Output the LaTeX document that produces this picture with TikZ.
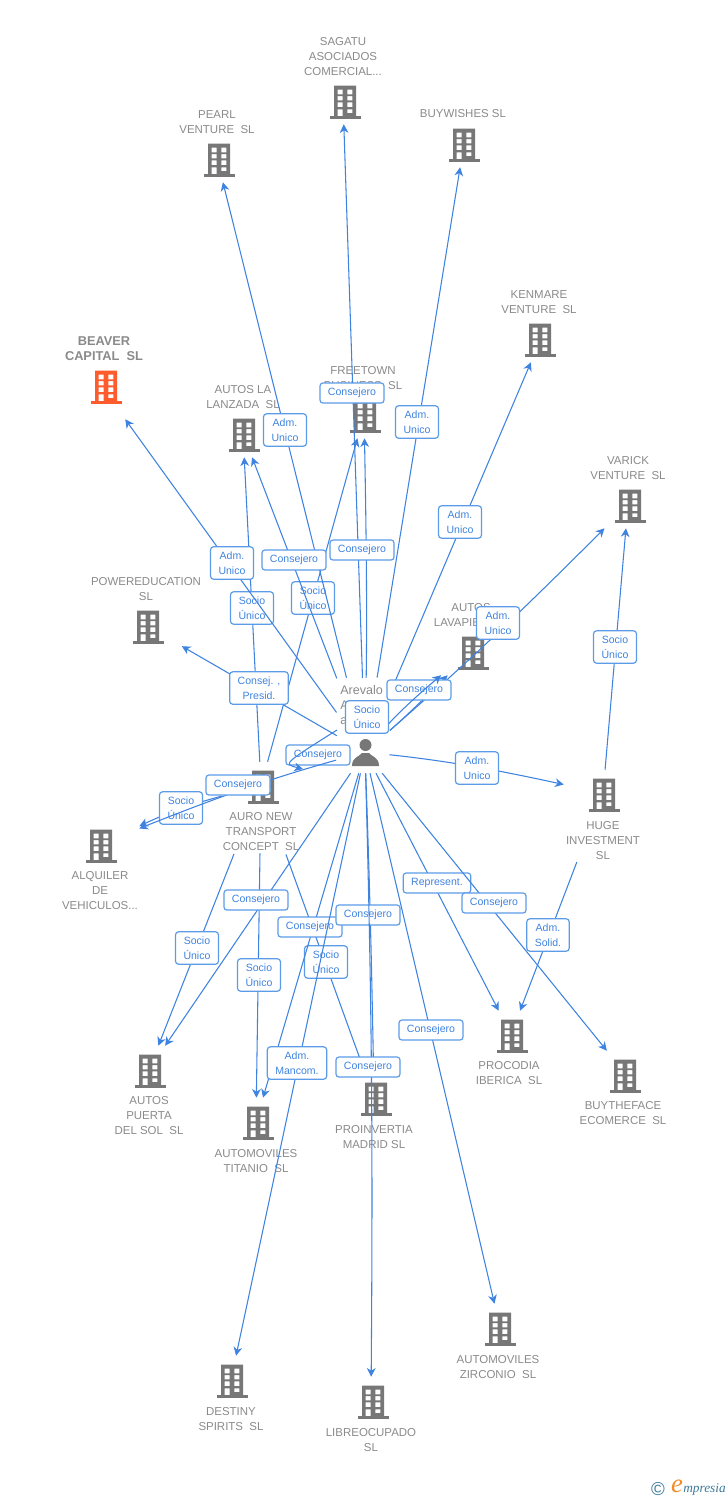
\documentclass[tikz,border=0pt]{standalone}
\usepackage{fontspec}
\setmainfont{Liberation Sans}
\newfontfamily\markfont{Liberation Serif}
\usetikzlibrary{arrows.meta}
\definecolor{flowblue}{HTML}{3F83E0}
\definecolor{tagline}{HTML}{5B9BE8}
\definecolor{nametext}{HTML}{8A8A8A}
\definecolor{iconmark}{HTML}{777777}
\definecolor{hotmark}{HTML}{FF5C2E}
\definecolor{markteal}{HTML}{3C7A9A}
\definecolor{markorange}{HTML}{F28C28}
\tikzset{>={Stealth[length=6.5pt,width=6.5pt,inset=2pt]}}
\tikzset{
  flow/.style={->,draw=flowblue,line width=.8pt},
  gap/.style={shorten <=#1},
  site/.style={inner sep=0pt,minimum width=58.5pt,minimum height=35.25pt},
  firm/.style={text=nametext,align=center,inner sep=0pt,font=\fontsize{8.6}{11.25}\selectfont},
  tag/.style={draw=tagline,line width=.9pt,fill=white,text=flowblue,rounded corners=2.2pt,align=center,
    inner xsep=6pt,inner ysep=3.6pt,minimum height=15pt,font=\fontsize{7.9}{11.25}\selectfont},
  pics/tower/.style={code={
    \fill[#1,even odd rule] (-11,-16.5) rectangle (11,14) (-7.3,-12.3) rectangle (-2.3,-7.7)
      (2.3,-12.3) rectangle (7.3,-7.7) (-7.3,-6) rectangle (-2.3,-1.7) (2.3,-6) rectangle (7.3,-1.7)
      (-7.3,.3) rectangle (-2.3,5) (2.3,.3) rectangle (7.3,5) (-7.3,7.3) rectangle (-2.3,14)
      (2.3,7.3) rectangle (7.3,11);
    \fill[#1] (-15.5,14) rectangle (15.5,16.5);
  }}
}
\begin{document}
\begin{tikzpicture}[x=.75pt,y=-.75pt]
\useasboundingbox (0,0) rectangle (728,1500);
% firms: name / icon / aim of the links / text
\foreach \id/\ix/\iy/\ax/\tx/\ty/\txt in {
  sagatu/345/102/343/343/57/{SAGATU\\ASOCIADOS\\COMERCIAL...},
  pearl/219/160/217/217/122/{PEARL\\VENTURE~~SL},
  buywishes/464/145/464/463/114/{BUYWISHES SL},
  kenmare/540/340/541/539/302/{KENMARE\\VENTURE~~SL},
  lanzada/244/435/243/243/397/{AUTOS LA\\LANZADA~~SL},
  freetown/365/416/364/363/378/{FREETOWN\\BUSINESS~~SL},
  varick/630/506/628/628/468/{VARICK\\VENTURE~~SL},
  powered/148/627/146/146/589/{POWEREDUCATION\\SL},
  lavapies/473/653/471/471/615/{AUTOS\\LAVAPIES~~SL},
  huge/604/795/603/603/841/{HUGE\\INVESTMENT\\SL},
  auro/263/787/261/261/832/{AURO NEW\\TRANSPORT\\CONCEPT~~SL},
  alquiler/101/846/100/100/891/{ALQUILER\\DE\\VEHICULOS...},
  puerta/150/1071/149/149/1116/{AUTOS\\PUERTA\\DEL SOL~~SL},
  titanio/258/1123/256/256/1161/{AUTOMOVILES\\TITANIO~~SL},
  proinvertia/376/1099/374/374/1137/{PROINVERTIA\\MADRID SL},
  procodia/512/1036/511/509/1073/{PROCODIA\\IBERICA~~SL},
  buytheface/625/1076/626/623/1113/{BUYTHEFACE\\ECOMERCE~~SL},
  zirconio/500/1329/500/498/1367/{AUTOMOVILES\\ZIRCONIO~~SL},
  destiny/232/1381/231/231/1419/{DESTINY\\SPIRITS~~SL},
  libreocupado/373/1402/371/371/1440/{LIBREOCUPADO\\SL}}{
  \node[site] (\id) at (\ax,\iy-1.5) {};
  \pic at (\ix,\iy) {tower=iconmark};
  \node[firm] (\id name) at (\tx,\ty) {\txt};
}
\node[site,minimum height=48pt] (beaver) at (102,387) {};
\pic at (106,387) {tower=hotmark};
\node[firm,font=\fontsize{9.6}{11.25}\selectfont\bfseries] (beavername) at (104,349) {BEAVER\\CAPITAL~~SL};
% person
\node[inner sep=0pt,minimum size=0pt] (person) at (365,752) {};
\fill[iconmark] (365.5,745) circle(6);
\fill[iconmark] (352,766) .. controls (352,757) and (359,757) .. (362,753) -- (369,753)
  .. controls (372,757) and (379,757) .. (379,766) -- cycle;
\node[firm,anchor=west,align=left,font=\fontsize{9.4}{11.25}\selectfont] (personname) at (340,705) {Arevalo\\A\\ar};
% links of the firms
\draw[flow] (huge) -- (varick);
\node[tag] (hugevarick) at (615,647) {Socio\\Único};
\draw[flow,gap=36pt] (huge) -- (procodia);
\node[tag] (hugeprocodia) at (548,935) {Adm.\\Solid.};
\draw[flow] (auro) -- (lanzada);
\node[tag] (aurolanzada) at (252,608) {Socio\\Único};
\draw[flow] (auro) -- (freetown);
\node[tag] (aurofreetown) at (313,598) {Socio\\Único};
\draw[flow] (auro) to[bend right=5] (alquiler);
\node[tag] (auroalquiler) at (181,808) {Socio\\Único};
\draw[flow,gap=36pt] (auro) -- (puerta);
\node[tag] (auropuerta) at (197,948) {Socio\\Único};
\draw[flow,gap=33pt] (auro) -- (titanio);
\node[tag] (aurotitanio) at (259,975) {Socio\\Único};
\draw[flow,gap=36pt] (auro) -- (proinvertia);
\node[tag] (auroproinvertia) at (326,962) {Socio\\Único};
% links of the person
\draw[flow,gap=36.3pt] (person) -- (beaver);
\node[tag] (tagbeaver) at (232,563) {Adm.\\Unico};
\draw[flow,gap=57.2pt] (person) -- (pearl);
\node[tag] (tagpearl) at (285,430) {Adm.\\Unico};
\draw[flow,gap=55.5pt] (person) -- (sagatu);
\node[tag] (tagsagatu) at (352,393) {Consejero};
\draw[flow,gap=56.3pt] (person) -- (buywishes);
\node[tag] (tagbuywishes) at (417,422) {Adm.\\Unico};
\draw[flow,gap=46pt] (person) -- (kenmare);
\node[tag] (tagkenmare) at (460,522) {Adm.\\Unico};
\draw[flow,gap=58.9pt] (person) -- (lanzada);
\node[tag] (taglanzada) at (294,560) {Consejero};
\draw[flow,gap=55.5pt] (person) to[bend right=1] (freetown);
\node[tag] (tagfreetown) at (362,550) {Consejero};
\draw[flow,gap=24.5pt] (person) to[bend right=2] (varick);
\node[tag] (tagvarick) at (498,623) {Adm.\\Unico};
\draw[flow,gap=24.2pt,shorten >=-3pt] (person) -- (powered);
\node[tag] (tagpowered) at (259,688) {Consej. ,\\Presid.};
\draw[flow,gap=24.4pt] (person) to[bend right=2] (lavapies);
\node[tag] (taglavapies) at (419,690) {Consejero};
\draw[flow,gap=24.4pt] (person) to[bend left=5] (lavapies);
\node[tag] (soclavapies) at (367,717) {Socio\\Único};
\node[tag] (tagauro) at (318,755) {Consejero};
\coordinate (aurostart) at (337,730);
\coordinate (aurobend) at (283,764);
\coordinate (aurotip) at (303,769);
\draw[flow] (aurostart) .. controls (aurobend) .. (aurotip);
\draw[flow,gap=22.3pt] (person) to[bend right=3] (alquiler);
\node[tag] (tagalquiler) at (238,785) {Consejero};
\draw[flow,gap=18.3pt] (person) to[bend left=3] (huge);
\node[tag] (taghuge) at (477,768) {Adm.\\Unico};
\draw[flow,gap=19pt] (person) -- (puerta);
\node[tag] (tagpuerta) at (256,900) {Consejero};
\draw[flow,gap=16.4pt] (person) -- (titanio);
\node[tag] (tagtitanio) at (310,927) {Consejero};
\draw[flow,gap=15.8pt] (person) to[bend left=.5] (proinvertia);
\node[tag] (tagproinvertia) at (368,915) {Consejero};
\draw[flow,gap=16.1pt] (person) -- (destiny);
\node[tag] (tagdestiny) at (297,1063) {Adm.\\Mancom.};
\draw[flow,gap=15.8pt] (person) to[bend left=1] (libreocupado);
\node[tag] (taglibreocupado) at (368,1067) {Consejero};
\draw[flow,gap=17.7pt] (person) -- (procodia);
\node[tag] (tagprocodia) at (437,883) {Represent.};
\draw[flow,gap=20.2pt] (person) -- (buytheface);
\node[tag] (tagbuytheface) at (494,903) {Consejero};
\draw[flow,gap=16.2pt] (person) -- (zirconio);
\node[tag] (tagzirconio) at (431,1030) {Consejero};
% mark in the corner
\node[inner sep=0pt,text=markteal,font=\fontsize{14}{14}\selectfont] (copymark) at (658,1489) {©};
\node[inner sep=0pt,text=markorange,font=\fontsize{20}{20}\markfont\itshape] (markE) at (677,1486) {e};
\node[inner sep=0pt,text=markteal,anchor=west,font=\fontsize{10}{10}\markfont\itshape] (markrest) at (683,1489) {mpresia};
\end{tikzpicture}
\end{document}
